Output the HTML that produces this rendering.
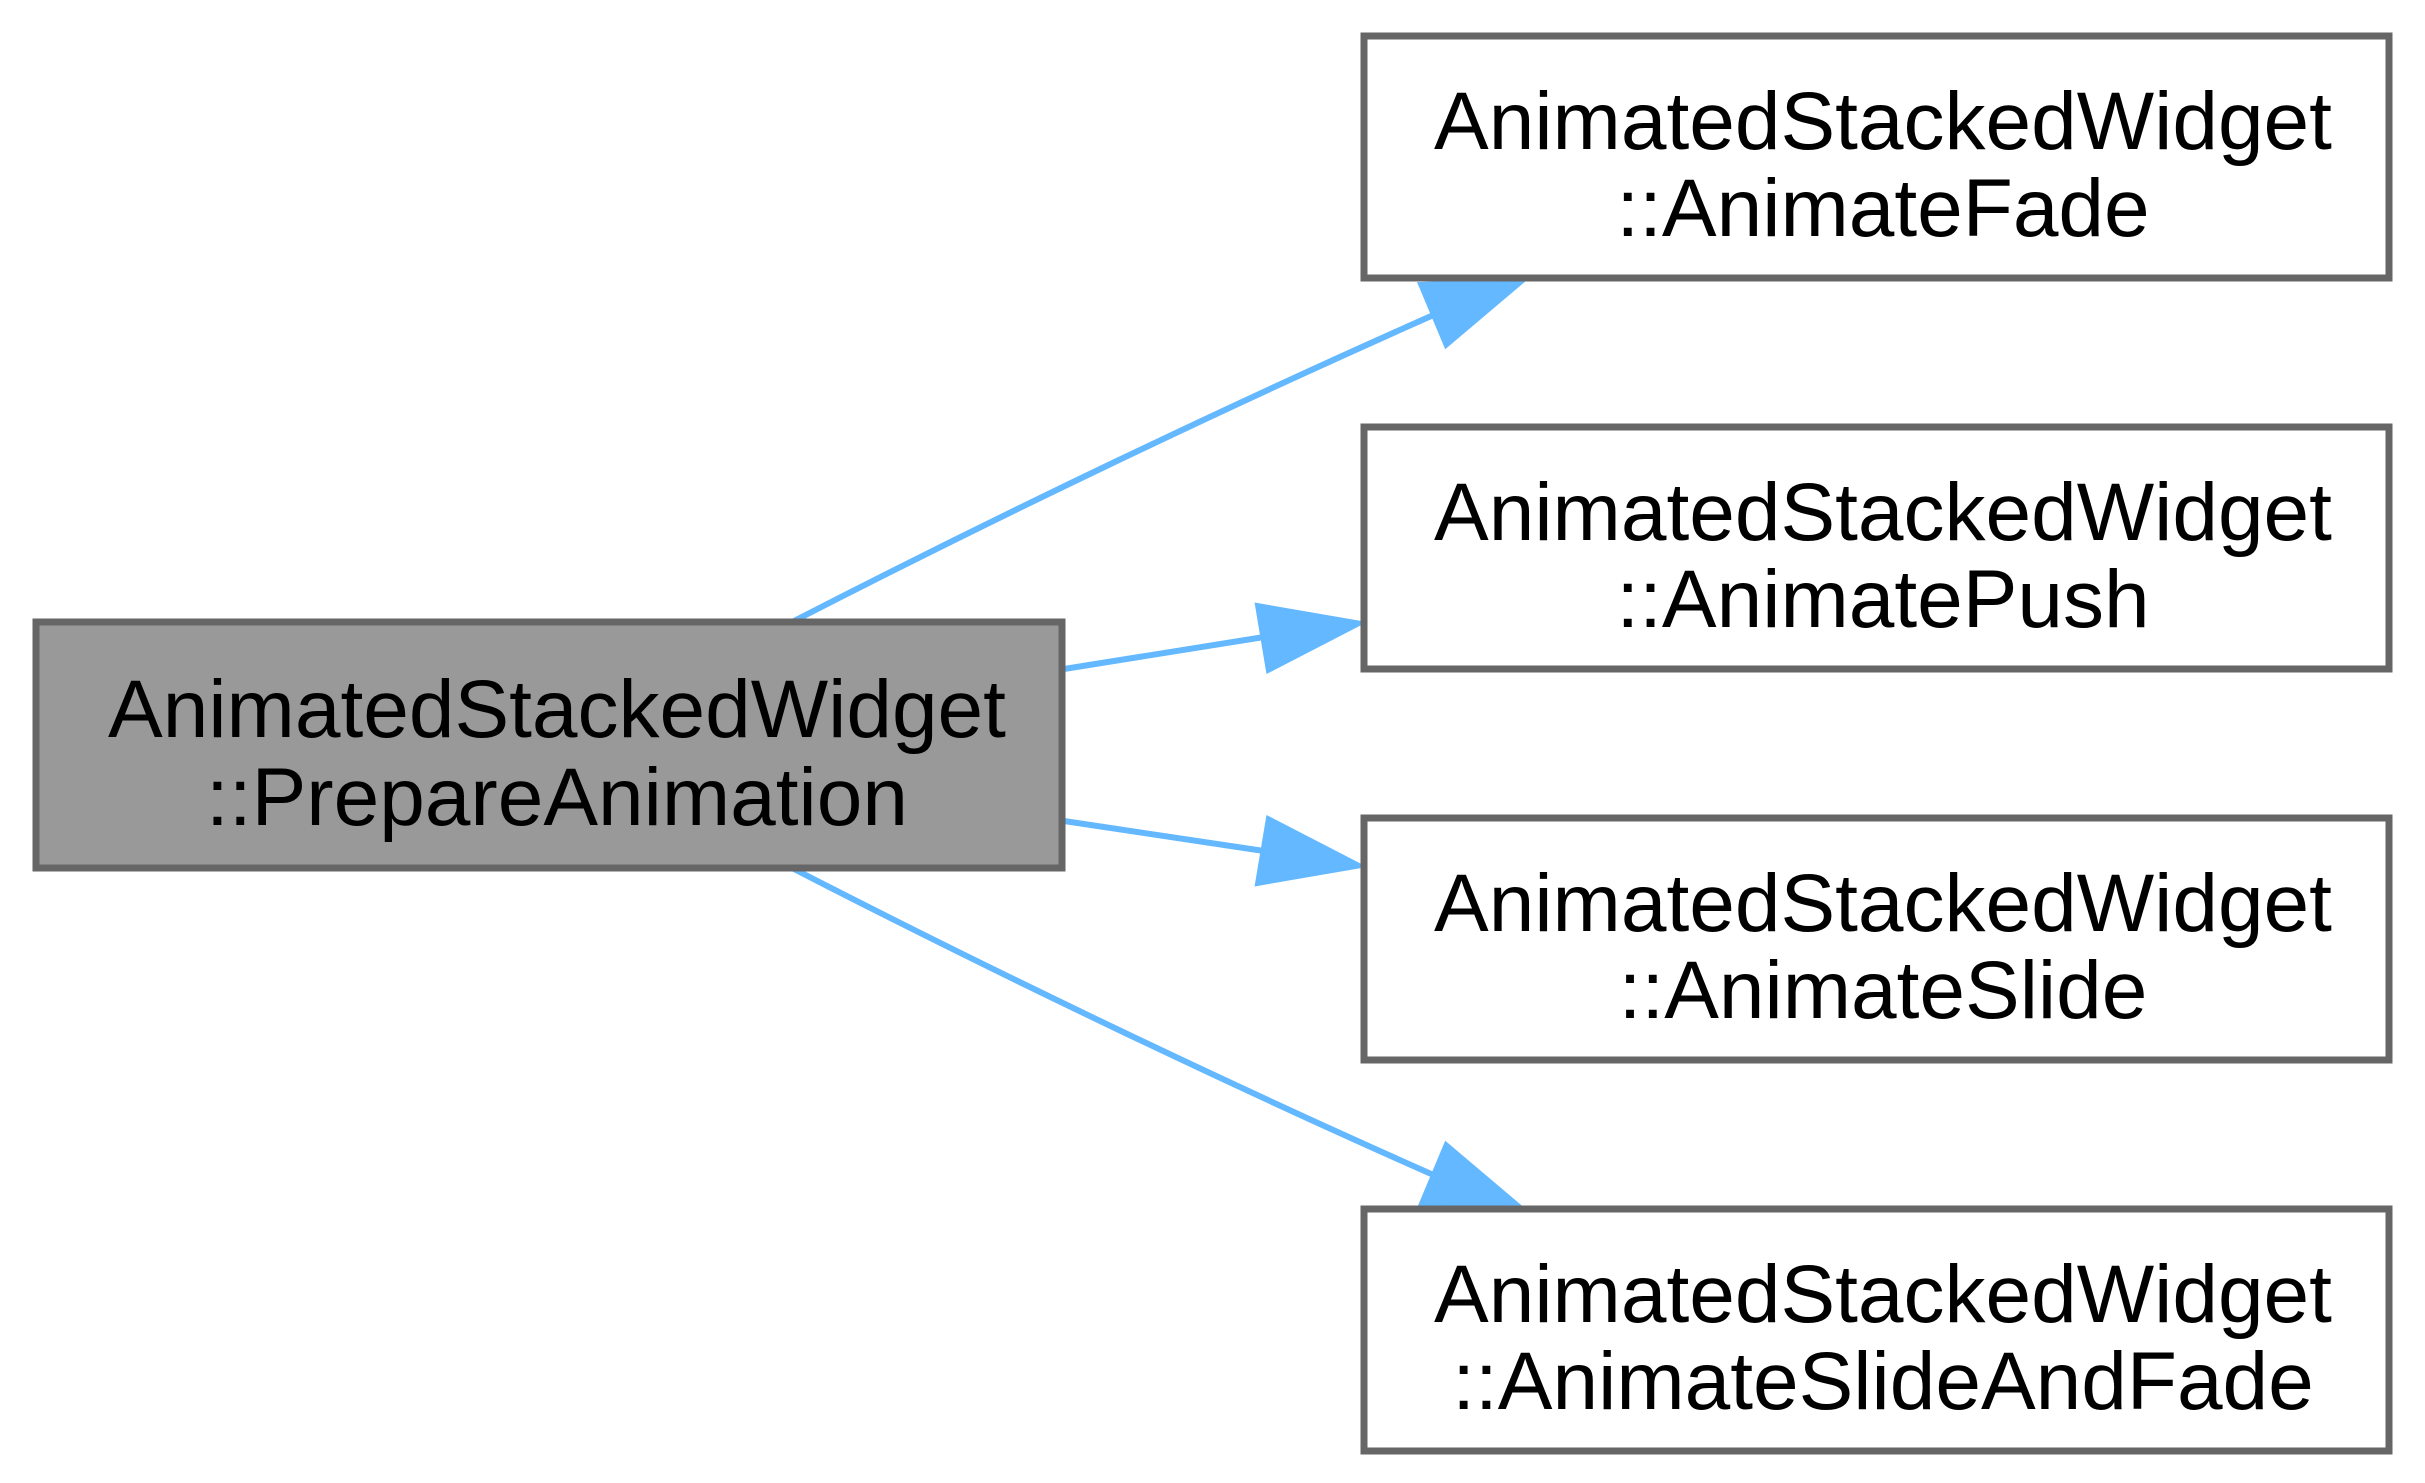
<!DOCTYPE html>
<html><head><meta charset="utf-8"><style>
html,body{margin:0;padding:0;background:#fff;}
svg{display:block;}
text{font-family:"Liberation Sans",Arial,sans-serif;font-size:82px;fill:#000;}
</style></head><body>
<svg width="2425" height="1483" viewBox="0 0 2425 1483" xmlns="http://www.w3.org/2000/svg">
<rect width="2425" height="1483" fill="#fff"/>
<g stroke="#63b8ff" stroke-width="6" fill="none">
<path d="M794,621 C1000,515 1230,405 1438,313"/>
<path d="M1064,669 L1264,637"/>
<path d="M1064,821 L1264,851"/>
<path d="M794,869 C1000,975 1230,1085 1438,1177"/>
</g>
<g fill="#63b8ff" stroke="#63b8ff" stroke-width="4">
<polygon points="1524,280 1420,284 1446,346"/>
<polygon points="1361,623 1257,605 1268,671"/>
<polygon points="1361,866 1268,818 1257,884"/>
<polygon points="1524,1210 1446,1144 1420,1206"/>
</g>
<g stroke="#666" stroke-width="7">
<rect x="36" y="622" width="1026" height="246" fill="#999"/>
<rect x="1364" y="36" width="1025" height="242" fill="#fff"/>
<rect x="1364" y="427" width="1025" height="242" fill="#fff"/>
<rect x="1364" y="818" width="1025" height="242" fill="#fff"/>
<rect x="1364" y="1209" width="1025" height="242" fill="#fff"/>
</g>
<g text-anchor="middle">
<text x="557" y="737">AnimatedStackedWidget</text>
<text x="557" y="825">::PrepareAnimation</text>
<text x="1883" y="149">AnimatedStackedWidget</text>
<text x="1883" y="236">::AnimateFade</text>
<text x="1883" y="540">AnimatedStackedWidget</text>
<text x="1883" y="627">::AnimatePush</text>
<text x="1883" y="931">AnimatedStackedWidget</text>
<text x="1883" y="1018">::AnimateSlide</text>
<text x="1883" y="1322">AnimatedStackedWidget</text>
<text x="1883" y="1409">::AnimateSlideAndFade</text>
</g>
</svg>
</body></html>
